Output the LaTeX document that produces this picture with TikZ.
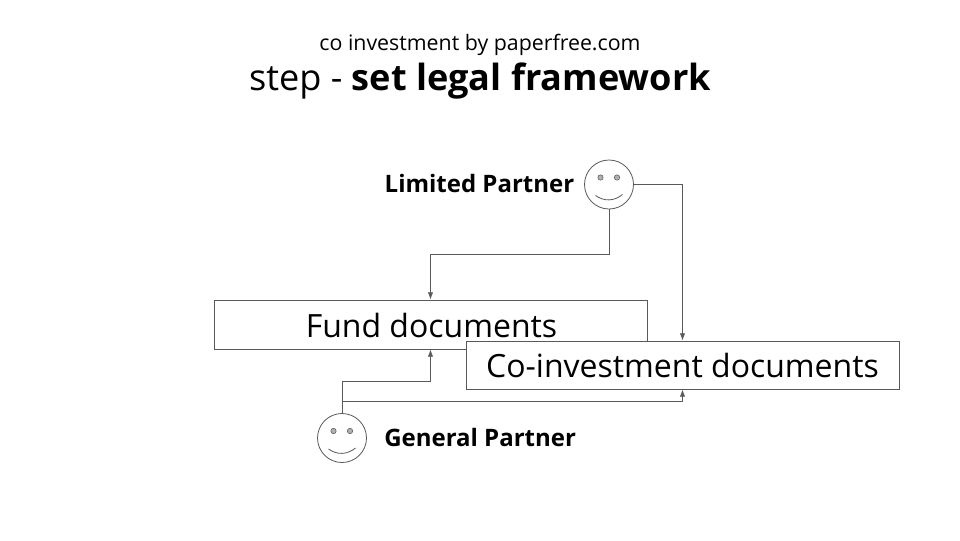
\documentclass[tikz,border=0pt]{standalone}
\usepackage{fontspec}
\setmainfont{Open Sans}
\usetikzlibrary{arrows.meta}
\definecolor{inkline}{HTML}{595959}
\definecolor{eyegrey}{HTML}{B0B0B0}
\tikzset{
  docbox/.style={draw=inkline,fill=white,line width=0.6pt,minimum width=324.75pt,inner sep=0pt,font=\fontsize{24}{28}\selectfont},
  face/.style={draw=inkline,fill=white,circle,line width=0.6pt,minimum size=36.75pt,inner sep=0pt},
  eye/.style={draw=inkline,fill=eyegrey,line width=0.4pt},
  mouth/.style={draw=inkline,line width=0.6pt},
  link/.style={draw=inkline,line width=0.6pt},
  linkarrow/.style={link,-{Latex[length=5.5pt,width=4pt]}},
  role/.style={font=\fontsize{18}{22}\selectfont\bfseries,inner sep=0pt},
}
% eyes and smile of a face, placed relative to its centre
\newcommand{\smileydetails}[1]{%
  \filldraw[eye] ([shift={(-8.5,-7)}]#1.center) circle (2.7);
  \filldraw[eye] ([shift={(8,-7)}]#1.center) circle (2.7);
  \draw[mouth] ([shift={(-13.5,11)}]#1.center) .. controls ([shift={(-5,17)}]#1.center) and ([shift={(5,17)}]#1.center) .. ([shift={(13.5,10)}]#1.center);
}
\begin{document}
\begin{tikzpicture}[x=0.75pt,y=-0.75pt]
  \useasboundingbox (0,0) rectangle (960,540);
  \fill[white] (0,0) rectangle (960,540);

  % headings
  \node[inner sep=0pt,font=\fontsize{16}{19}\selectfont] (subtitle) at (480,45) {co investment by paperfree.com};
  \node[inner sep=0pt,font=\fontsize{27.1}{32}\selectfont] (headline) at (480,81) {step - \textbf{set legal framework}};

  % document boxes
  \node[docbox,minimum height=36.75pt,text height=22pt,text depth=2.2pt] (fund) at (430.5,324.5) {\hspace{1.5pt}Fund documents};
  \node[docbox,minimum height=36pt] (coinv) at (682.5,365) {Co-investment documents};

  % partners
  \node[face] (lp) at (609,184.5) {};
  \smileydetails{lp}
  \node[face] (gp) at (342,438) {};
  \smileydetails{gp}
  \node[role,anchor=east] (lplabel) at (574.5,183.5) {Limited Partner};
  \node[role,anchor=west] (gplabel) at (384,437.5) {General Partner};

  % routing levels for the connectors
  \coordinate (lpbend) at (0,254);
  \coordinate (gpupper) at (0,381);
  \coordinate (gplower) at (0,401);

  \draw[linkarrow] (lp.south) -- (lp.south |- lpbend) -- (fund.north |- lpbend) -- (fund.north);
  \draw[linkarrow] (lp.east) -- (coinv.north |- lp.east) -- (coinv.north);
  \draw[linkarrow] (gp.north) -- (gp.north |- gpupper) -- (fund.south |- gpupper) -- (fund.south);
  \draw[linkarrow] (gp.north) -- (gp.north |- gplower) -- (coinv.south |- gplower) -- (coinv.south);
\end{tikzpicture}
\end{document}
